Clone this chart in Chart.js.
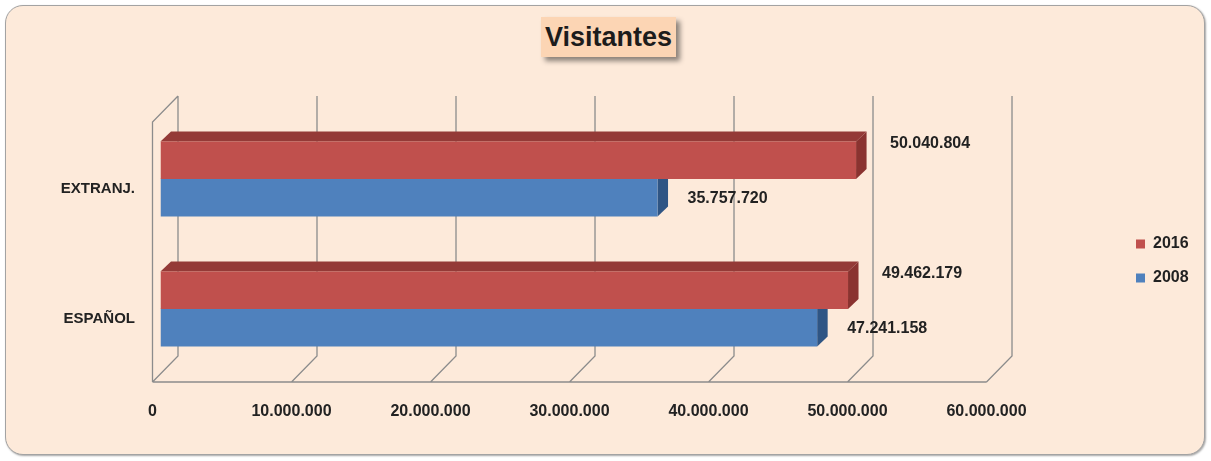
<!DOCTYPE html>
<html>
<head>
<meta charset="utf-8">
<script src="https://cdn.jsdelivr.net/npm/chart.js@4.4.1/dist/chart.umd.min.js"></script>
<style>
  html, body { margin: 0; padding: 0; background: #fff; }
  #wrap { position: relative; width: 1211px; height: 461px; }
  #frame {
    position: absolute; left: 5px; top: 5px; width: 1200px; height: 450px;
    box-sizing: border-box; border: 1.5px solid #a3a3a3; border-radius: 18px;
    background: #fdeada; box-shadow: 1px 1px 2px rgba(0,0,0,0.35);
  }
  #title {
    position: absolute; left: 541px; top: 17px; width: 135px; height: 40px;
    background: #fcd5b4; box-shadow: 4px 4px 5px rgba(0,0,0,0.45);
    font: bold 27px "Liberation Sans", Arial, sans-serif; color: #1c1c1c;
    text-align: center; line-height: 41px;
  }
  canvas { position: absolute; left: 0; top: 0; }
</style>
</head>
<body>
<div id="wrap">
  <div id="frame"></div>
  <div id="title">Visitantes</div>
  <canvas id="visitorsChart" width="1211" height="461"></canvas>
</div>
<script>
const categories = ['EXTRANJ.', 'ESPAÑOL'];
const seriesNames = ['2016', '2008'];
const visitors2016 = [50040804, 49462179];
const visitors2008 = [35757720, 47241158];
const xTickValues = [0, 10000000, 20000000, 30000000, 40000000, 50000000, 60000000];

const FONT = '"Liberation Sans", Arial, sans-serif';
const TEXT = '#222';
const GRID = '#8c8c8c';

// 3D offsets relative to the plane where bars start
const FRONT = { dx: -8, dy: 8 };
const BACK = { dx: 17.5, dy: -18 };
const BAR_DEPTH = { dx: 10.5, dy: -10 };

function fmt(v) {
    return String(v).replace(/\B(?=(\d{3})+(?!\d))/g, '.');
}

const wall3d = {
    id: 'wall3d',
    beforeDatasetsDraw(chart) {
        const { ctx, chartArea: a } = chart;
        const x = chart.scales.x;
        ctx.save();
        ctx.strokeStyle = GRID;
        ctx.lineWidth = 1.3;
        const x0 = x.getPixelForValue(xTickValues[0]);
        const xN = x.getPixelForValue(xTickValues[xTickValues.length - 1]);
        ctx.beginPath();
        // left wall
        ctx.moveTo(x0 + FRONT.dx, a.bottom + FRONT.dy);
        ctx.lineTo(x0 + FRONT.dx, a.top + FRONT.dy);
        ctx.lineTo(x0 + BACK.dx, a.top + BACK.dy);
        // floor front edge
        ctx.moveTo(x0 + FRONT.dx, a.bottom + FRONT.dy);
        ctx.lineTo(xN + FRONT.dx, a.bottom + FRONT.dy);
        // back wall gridlines + floor diagonals
        xTickValues.forEach(v => {
            const px = x.getPixelForValue(v);
            ctx.moveTo(px + BACK.dx, a.top + BACK.dy);
            ctx.lineTo(px + BACK.dx, a.bottom + BACK.dy);
            ctx.lineTo(px + FRONT.dx, a.bottom + FRONT.dy);
        });
        ctx.stroke();

        // top and side faces of bars, lower bars first
        for (let d = chart.data.datasets.length - 1; d >= 0; d--) {
            const ds = chart.data.datasets[d];
            chart.getDatasetMeta(d).data.forEach(bar => {
                const t = bar.y - bar.height / 2;
                const b = bar.y + bar.height / 2;
                ctx.fillStyle = ds.topColor;
                ctx.beginPath();
                ctx.moveTo(bar.base, t);
                ctx.lineTo(bar.x, t);
                ctx.lineTo(bar.x + BAR_DEPTH.dx, t + BAR_DEPTH.dy);
                ctx.lineTo(bar.base + BAR_DEPTH.dx, t + BAR_DEPTH.dy);
                ctx.closePath();
                ctx.fill();
                ctx.fillStyle = ds.sideColor;
                ctx.beginPath();
                ctx.moveTo(bar.x, t);
                ctx.lineTo(bar.x, b);
                ctx.lineTo(bar.x + BAR_DEPTH.dx, b + BAR_DEPTH.dy);
                ctx.lineTo(bar.x + BAR_DEPTH.dx, t + BAR_DEPTH.dy);
                ctx.closePath();
                ctx.fill();
            });
        }
        ctx.restore();
    }
};

const valueLabels = {
    id: 'valueLabels',
    afterDatasetsDraw(chart) {
        const { ctx } = chart;
        ctx.save();
        ctx.font = 'bold 16px ' + FONT;
        ctx.fillStyle = TEXT;
        ctx.textAlign = 'left';
        ctx.textBaseline = 'middle';
        chart.data.datasets.forEach((ds, d) => {
            chart.getDatasetMeta(d).data.forEach((bar, i) => {
                ctx.fillText(fmt(ds.data[i]), bar.x + ds.labelShift.dx, bar.y + ds.labelShift.dy);
            });
        });
        ctx.restore();
    }
};

new Chart(document.getElementById('visitorsChart'), {
    type: 'bar',
    data: {
        labels: categories,
        datasets: [
            {
                label: seriesNames[0],
                data: visitors2016,
                xAxisID: 'x',
                yAxisID: 'y',
                backgroundColor: '#c0504d',
                topColor: '#943a37',
                sideColor: '#8a3330',
                labelShift: { dx: 34, dy: -17 },
                borderWidth: 0
            },
            {
                label: seriesNames[1],
                data: visitors2008,
                xAxisID: 'x',
                yAxisID: 'y',
                backgroundColor: '#4f81bd',
                topColor: '#3f6a9e',
                sideColor: '#2f5584',
                labelShift: { dx: 30, dy: 1 },
                borderWidth: 0
            }
        ]
    },
    options: {
        indexAxis: 'y',
        responsive: false,
        animation: false,
        categoryPercentage: 0.577,
        barPercentage: 1,
        layout: { padding: { left: 0, right: 12.4, top: 100, bottom: 39 } },
        plugins: {
            legend: {
                position: 'right',
                labels: {
                    boxWidth: 9,
                    boxHeight: 9,
                    padding: 18,
                    color: TEXT,
                    font: { family: FONT, size: 16, weight: 'bold' }
                }
            },
            tooltip: { enabled: false }
        },
        scales: {
            x: {
                min: xTickValues[0],
                max: xTickValues[xTickValues.length - 1],
                grid: { display: false, drawTicks: false },
                border: { display: false },
                ticks: {
                    stepSize: xTickValues[1] - xTickValues[0],
                    padding: 28,
                    labelOffset: -8,
                    maxRotation: 0,
                    color: TEXT,
                    font: { family: FONT, size: 16, weight: 'bold' },
                    callback: v => fmt(v)
                },
                afterFit(s) { s.height = 48; }
            },
            y: {
                grid: { display: false, drawTicks: false },
                border: { display: false },
                ticks: {
                    padding: 25.5,
                    labelOffset: 10,
                    color: TEXT,
                    font: { family: FONT, size: 15, weight: 'bold' }
                },
                afterFit(s) { s.width = 160.5; }
            },
            yR: {
                type: 'linear',
                position: 'right',
                grid: { display: false, drawTicks: false },
                border: { display: false },
                ticks: { display: false },
                afterFit(s) { s.width = 123.5; }
            },
            xTop: {
                type: 'linear',
                position: 'top',
                grid: { display: false, drawTicks: false },
                border: { display: false },
                ticks: { display: false },
                afterFit(s) { s.height = 14; }
            }
        }
    },
    plugins: [wall3d, valueLabels]
});
</script>
</body>
</html>
